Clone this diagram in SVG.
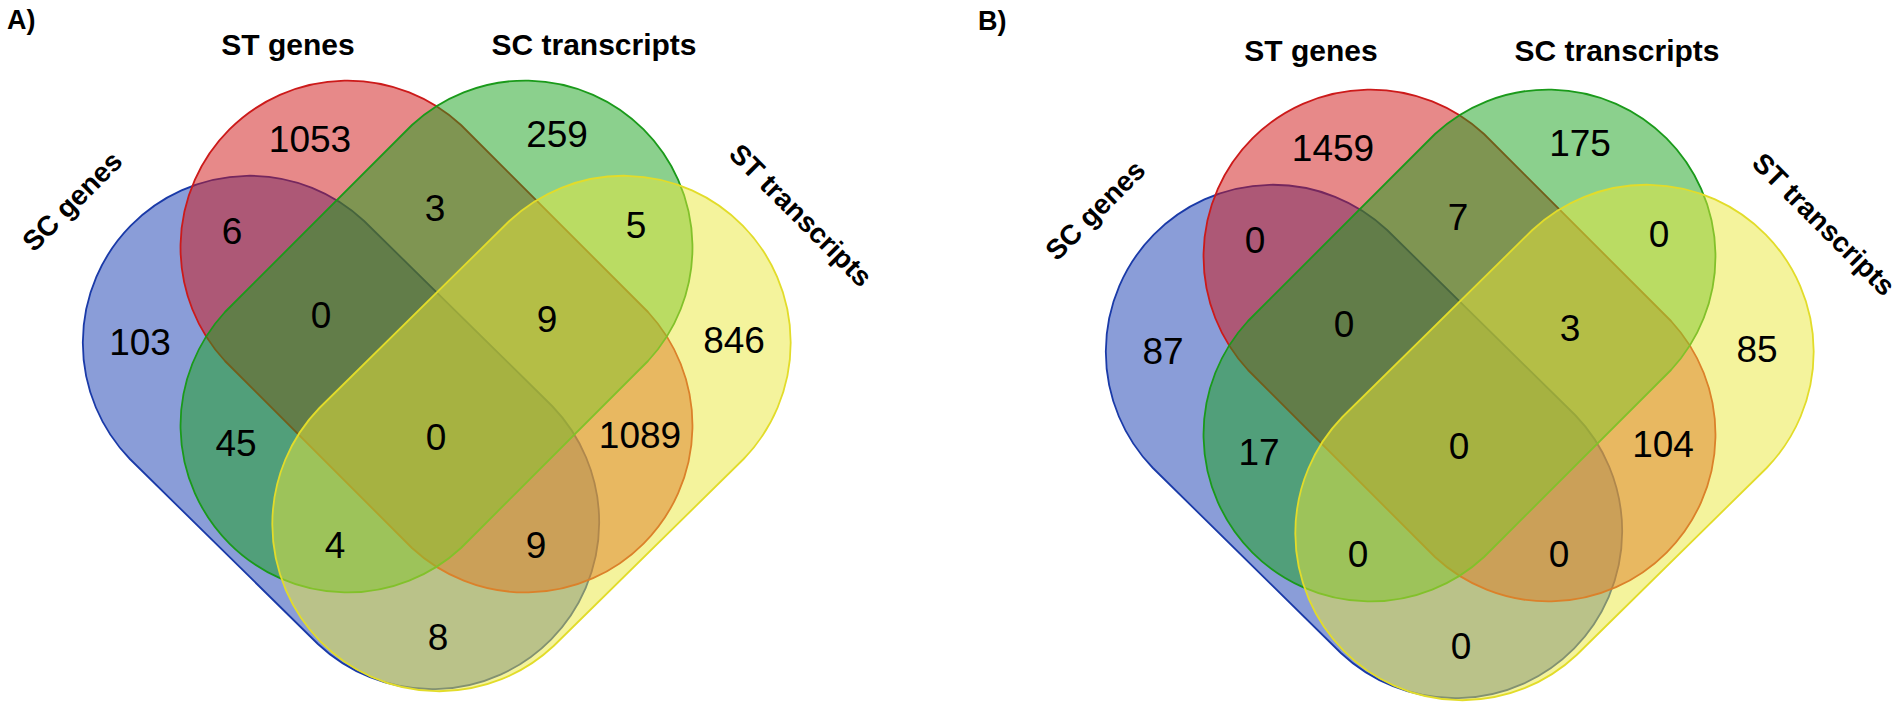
<svg xmlns="http://www.w3.org/2000/svg" xmlns:xlink="http://www.w3.org/1999/xlink" width="1902" height="710" viewBox="0 0 1902 710">
<style>
.set{stroke-width:1.8;fill-opacity:0.5;stroke-linejoin:round}
.blue{fill:#153bb1;stroke:#1a3aa8}
.red{fill:#d01414;stroke:#cc1a1a}
.green{fill:#17a11b;stroke:#1a9a1a}
.yellow{fill:#e9e739;stroke:#e2dc2a}
.num{font-family:"Liberation Sans",Arial,Helvetica,sans-serif;font-size:37px;fill:#000;text-anchor:middle}
.lab{font-family:"Liberation Sans",Arial,Helvetica,sans-serif;font-weight:bold;font-size:30px;fill:#000;text-anchor:middle}
.rlab{font-family:"Liberation Sans",Arial,Helvetica,sans-serif;font-weight:bold;font-size:28px;fill:#000;text-anchor:middle}
.panel{font-family:"Liberation Sans",Arial,Helvetica,sans-serif;font-weight:bold;font-size:27px;fill:#000}
</style>
<defs>
<path id="shBlue" d="M364.1,221 L552.1,406 A167,167 0 0 1 317.9,644 L129.9,459 A167,167 0 0 1 364.1,221 Z"/>
<path id="shRed" d="M461,125 L648,312 A167,167 0 0 1 412,548 L225,361 A167,167 0 0 1 461,125 Z"/>
<path id="shGreen" d="M412,125 A167,167 0 0 1 648,361 L461,548 A167,167 0 0 1 225,312 Z"/>
<path id="shYellow" d="M509.4,221 A167,167 0 0 1 743.6,459 L553.6,646 A167,167 0 0 1 319.4,408 Z"/>
</defs>
<rect width="1902" height="710" fill="#fff"/>

<g id="panelA">
  <text class="panel" x="7" y="29">A)</text>
  <g id="A-sc-genes"><use xlink:href="#shBlue" class="set blue"/><text class="rlab" transform="translate(79,208) rotate(-45)">SC genes</text></g>
  <g id="A-st-genes"><use xlink:href="#shRed" class="set red"/><text class="lab" x="288" y="55">ST genes</text></g>
  <g id="A-sc-transcripts"><use xlink:href="#shGreen" class="set green"/><text class="lab" x="594" y="55">SC transcripts</text></g>
  <g id="A-st-transcripts"><use xlink:href="#shYellow" class="set yellow"/><text class="rlab" transform="translate(794,222) rotate(45)">ST transcripts</text></g>
  <g id="A-counts">
    <text class="num" x="310" y="152">1053</text>
    <text class="num" x="557" y="147">259</text>
    <text class="num" x="232" y="244">6</text>
    <text class="num" x="435" y="221">3</text>
    <text class="num" x="636" y="238">5</text>
    <text class="num" x="140" y="355">103</text>
    <text class="num" x="321" y="328">0</text>
    <text class="num" x="547" y="332">9</text>
    <text class="num" x="734" y="353">846</text>
    <text class="num" x="236" y="456">45</text>
    <text class="num" x="436" y="450">0</text>
    <text class="num" x="640" y="448">1089</text>
    <text class="num" x="335" y="558">4</text>
    <text class="num" x="536" y="558">9</text>
    <text class="num" x="438" y="650">8</text>
  </g>
</g>

<text class="panel" x="978" y="30">B)</text>
<g id="panelB" transform="translate(1023,9)">
  <g id="B-sc-genes"><use xlink:href="#shBlue" class="set blue"/><text class="rlab" transform="translate(79,208) rotate(-45)">SC genes</text></g>
  <g id="B-st-genes"><use xlink:href="#shRed" class="set red"/><text class="lab" x="288" y="52">ST genes</text></g>
  <g id="B-sc-transcripts"><use xlink:href="#shGreen" class="set green"/><text class="lab" x="594" y="52">SC transcripts</text></g>
  <g id="B-st-transcripts"><use xlink:href="#shYellow" class="set yellow"/><text class="rlab" transform="translate(794,222) rotate(45)">ST transcripts</text></g>
  <g id="B-counts">
    <text class="num" x="310" y="152">1459</text>
    <text class="num" x="557" y="147">175</text>
    <text class="num" x="232" y="244">0</text>
    <text class="num" x="435" y="221">7</text>
    <text class="num" x="636" y="238">0</text>
    <text class="num" x="140" y="355">87</text>
    <text class="num" x="321" y="328">0</text>
    <text class="num" x="547" y="332">3</text>
    <text class="num" x="734" y="353">85</text>
    <text class="num" x="236" y="456">17</text>
    <text class="num" x="436" y="450">0</text>
    <text class="num" x="640" y="448">104</text>
    <text class="num" x="335" y="558">0</text>
    <text class="num" x="536" y="558">0</text>
    <text class="num" x="438" y="650">0</text>
  </g>
</g>
</svg>
